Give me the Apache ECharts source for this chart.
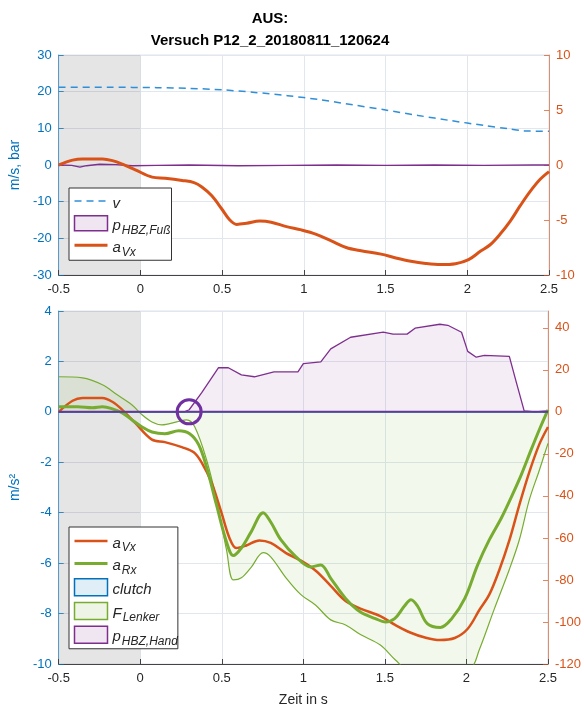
<!DOCTYPE html>
<html>
<head>
<meta charset="utf-8">
<script src="https://cdn.jsdelivr.net/npm/echarts@6/dist/echarts.min.js"></script>
<style>
  html, body { margin: 0; padding: 0; background: #fff; }
  #chart { width: 584px; height: 711px; }
</style>
</head>
<body>
<div id="chart"></div>
<script>
// ---- data ---------------------------------------------------------------
const titleLines = ['AUS:', 'Versuch P12_2_20180811_120624'];

// shaded pre-trigger window [s]
const preWindow = [-0.5, 0];

// vehicle speed v [m/s] (top plot, left axis)
const speedV = [[-0.5,21.2],[-0.2,21.2],[0.1,21.1],[0.3,20.9],[0.5,20.5],[0.7,19.8],[0.9,18.9],
  [1.1,17.8],[1.3,16.4],[1.5,15.0],[1.7,13.5],[1.9,12.1],[2.1,10.8],[2.25,9.9],[2.35,9.3],[2.5,9.2]];

// brake pressure foot lever [bar] (top plot, left axis)
const pFuss = [[-0.5,0],[-0.42,-0.1],[-0.37,-0.6],[-0.33,-0.2],[-0.25,0.2],[-0.15,0.1],[-0.05,-0.2],
  [0.1,-0.1],[0.3,0],[0.6,-0.2],[0.9,-0.1],[1.2,0],[1.5,-0.1],[1.8,0],[2.1,-0.1],[2.4,0],[2.5,0]];

// vehicle longitudinal acceleration a_Vx [m/s²]
const aVx = [[-0.5,0],[-0.415,0.44],[-0.354,0.55],[-0.232,0.55],[-0.171,0.4],[-0.11,0.08],[-0.031,-0.44],
  [0.072,-1.1],[0.151,-1.2],[0.255,-1.4],[0.328,-1.6],[0.376,-2.0],[0.437,-2.8],[0.498,-4.0],[0.547,-5.0],
  [0.589,-5.4],[0.65,-5.3],[0.73,-5.1],[0.80,-5.2],[0.894,-5.6],[0.985,-5.9],[1.076,-6.3],[1.168,-6.9],
  [1.259,-7.5],[1.35,-7.8],[1.472,-8.1],[1.563,-8.45],[1.655,-8.75],[1.746,-8.95],[1.837,-9.05],
  [1.928,-8.97],[2.008,-8.6],[2.08,-7.85],[2.14,-7.25],[2.20,-6.3],[2.263,-5.1],[2.324,-3.7],
  [2.385,-2.4],[2.446,-1.3],[2.5,-0.6]];

// wheel longitudinal acceleration a_Rx [m/s²]
const aRx = [[-0.5,0.2],[-0.384,0.2],[-0.293,0.16],[-0.232,0.2],[-0.171,0.12],[-0.11,-0.04],[-0.05,-0.32],
  [0.011,-0.6],[0.072,-0.8],[0.151,-0.87],[0.236,-0.75],[0.303,-0.87],[0.358,-1.3],[0.407,-2.2],
  [0.468,-3.7],[0.529,-5.16],[0.571,-5.7],[0.62,-5.4],[0.68,-4.76],[0.754,-4.0],[0.80,-4.37],
  [0.863,-5.08],[0.955,-5.75],[1.046,-6.15],[1.107,-6.07],[1.168,-6.6],[1.259,-7.4],[1.35,-7.94],
  [1.442,-8.2],[1.502,-8.33],[1.56,-8.2],[1.62,-7.7],[1.66,-7.45],[1.70,-7.7],[1.76,-8.4],[1.84,-8.55],
  [1.91,-8.2],[1.99,-7.4],[2.069,-6.07],[2.14,-5.08],[2.215,-4.2],[2.276,-3.37],[2.336,-2.5],
  [2.397,-1.5],[2.452,-0.63],[2.5,0.08]];

// clutch signal
const clutch = [[-0.5,0],[2.5,0]];

// handlebar force F_Lenker [N] (bottom plot, right axis)
const fLenker = [[-0.5,16.7],[-0.354,16.2],[-0.232,12.9],[-0.141,8.1],[-0.05,3.3],[0.011,-1.4],
  [0.072,-4.8],[0.133,-6.2],[0.224,-4.8],[0.285,-3.8],[0.334,-7.1],[0.407,-22.9],[0.468,-41.9],
  [0.529,-65.7],[0.571,-80],[0.62,-79],[0.68,-74],[0.754,-67],[0.80,-69],[0.894,-79],
  [0.985,-87],[1.076,-92],[1.168,-99],[1.259,-101.4],[1.35,-106],[1.472,-111],[1.563,-118],
  [1.655,-124],[1.837,-128],[2.02,-123],[2.08,-113],[2.17,-94],[2.263,-75],[2.324,-61],
  [2.385,-42],[2.446,-28],[2.5,-15]];

// brake pressure hand lever [bar] (bottom plot, right axis)
const pHand = [[-0.5,0],[0.27,0],[0.30,1],[0.376,9],[0.48,21],[0.54,21],[0.62,17.6],[0.70,16.7],
  [0.82,19],[0.967,19],[1.0,23],[1.107,23.8],[1.168,30],[1.29,35.5],[1.49,37.9],[1.55,37],
  [1.636,37],[1.685,39.8],[1.837,41.7],[1.886,41.2],[1.97,37.9],[2.008,28.8],[2.06,26],
  [2.11,26.9],[2.263,26.4],[2.306,14],[2.354,0.5],[2.42,0],[2.5,0.5]];

// onset of hand brake pressure
const onsetMark = [[0.3, 0]];

// ---- styling ------------------------------------------------------------
const FONT = '"Liberation Sans", Arial, Helvetica, sans-serif';
const BLUE = '#0072BD', ORANGE = '#D95319', GREEN = '#77AC30', PURPLE = '#7E2F8E';
const GRID_LINE = '#e2e7ee';
const TXT = '#262626';

const legendText = {
  'v': '{m|v}{s| }',
  'p_HBZ,Fuß': '{m|p}{s|HBZ,Fuß}',
  'a_Vx': '{m|a}{s|Vx}',
  'a_Rx': '{m|a}{s|Rx}',
  'clutch': '{m|clutch}{s| }',
  'F_Lenker': '{m|F}{s|Lenker}',
  'p_HBZ,Hand': '{m|p}{s|HBZ,Hand}'
};
const rich = {
  m: { fontFamily: FONT, fontSize: 15, fontStyle: 'italic', color: TXT, verticalAlign: 'top', lineHeight: 16, padding: [3, 0, 0, 0] },
  s: { fontFamily: FONT, fontSize: 12, fontStyle: 'italic', color: TXT, verticalAlign: 'top', lineHeight: 13, padding: [9, 0, 0, 1] }
};

function xAxisOf(grid, withName) {
  return {
    type: 'value', gridIndex: grid, min: -0.5, max: 2.5, interval: 0.5,
    axisLine: { show: true, onZero: false, lineStyle: { color: '#444', width: 1 } },
    axisTick: { show: true, inside: true, length: 5, lineStyle: { color: '#444' } },
    axisLabel: { color: TXT, fontFamily: FONT, fontSize: 13, margin: 8 },
    splitLine: { show: true, lineStyle: { color: GRID_LINE, width: 1 } },
    name: withName ? 'Zeit in s' : '', nameLocation: 'middle', nameGap: 29,
    nameTextStyle: { color: TXT, fontFamily: FONT, fontSize: 14 }
  };
}
function yAxisOf(grid, side, min, max, interval, color, name, split) {
  return {
    type: 'value', gridIndex: grid, position: side, min, max, interval,
    axisLine: { show: true, onZero: false, lineStyle: { color, width: 1, opacity: 0.6 } },
    axisTick: { show: true, inside: true, length: 5, lineStyle: { color, opacity: 0.7 } },
    axisLabel: { color, fontFamily: FONT, fontSize: 13, margin: 7, showMaxLabel: interval * Math.round(max / interval) === max },
    splitLine: { show: split, lineStyle: { color: GRID_LINE, width: 1 } },
    name, nameLocation: 'middle', nameGap: 26,
    nameTextStyle: { color, fontFamily: FONT, fontSize: 14 }
  };
}

const legendBase = {
  orient: 'vertical', selectedMode: false, itemWidth: 33, itemHeight: 15, itemGap: 1,
  backgroundColor: '#fff', borderColor: '#333', borderWidth: 1, borderRadius: 0,
  padding: [5, 1, 2, 4],
  formatter: n => legendText[n],
  textStyle: { rich }
};
const lineEntry = (name, color, width, type) => ({ name, itemStyle: { opacity: 0 }, lineStyle: { color, width, type: type || 'solid' } });
const boxEntry = (name, fill, border) => ({ name, icon: 'rect', itemStyle: { color: fill, borderColor: border, borderWidth: 1.5 } });

const option = {
  animation: false,
  backgroundColor: '#fff',
  graphic: [{
    type: 'text', x: 270, y: 8,
    style: { text: titleLines.join('\n'), fill: '#000', font: 'bold 15px ' + FONT, textAlign: 'center', lineHeight: 22 }
  }],
  grid: [
    { left: 56, right: 35, top: 55, height: 220, show: true, borderColor: '#dde3ea', borderWidth: 1, backgroundColor: 'transparent' },
    { left: 56, right: 35, top: 311, height: 353, show: true, borderColor: '#dde3ea', borderWidth: 1, backgroundColor: 'transparent' }
  ],
  xAxis: [xAxisOf(0, false), xAxisOf(1, true)],
  yAxis: [
    yAxisOf(0, 'left', -30, 30, 10, BLUE, 'm/s, bar', true),
    yAxisOf(0, 'right', -10, 10, 5, ORANGE, '', false),
    yAxisOf(1, 'left', -10, 4, 2, BLUE, 'm/s²', true),
    yAxisOf(1, 'right', -120, 48, 20, ORANGE, '', false)
  ],
  legend: [
    Object.assign({}, legendBase, {
      left: 69, top: 188,
      data: [lineEntry('v', '#2f8fd8', 1.5, [7, 5]), boxEntry('p_HBZ,Fuß', 'rgba(126,47,142,0.12)', PURPLE), lineEntry('a_Vx', ORANGE, 3)]
    }),
    Object.assign({}, legendBase, {
      left: 69, top: 527, itemHeight: 17, itemGap: 1.5, padding: [6, 0, 1, 4],
      data: [lineEntry('a_Vx', ORANGE, 2.5), lineEntry('a_Rx', GREEN, 3),
        boxEntry('clutch', 'rgba(0,114,189,0.12)', BLUE), boxEntry('F_Lenker', 'rgba(119,172,48,0.12)', GREEN),
        boxEntry('p_HBZ,Hand', 'rgba(126,47,142,0.12)', PURPLE)]
    })
  ],
  series: [
    // top plot
    { name: 'p_HBZ,Fuß', type: 'line', xAxisIndex: 0, yAxisIndex: 0, data: pFuss, symbol: 'none', z: 1,
      lineStyle: { color: PURPLE, width: 1.3 }, areaStyle: { color: 'rgba(126,47,142,0.12)' },
      markArea: { silent: true, itemStyle: { color: 'rgba(0,0,0,0.1)' }, data: [[{ xAxis: preWindow[0] }, { xAxis: preWindow[1] }]] } },
    { name: 'v', type: 'line', xAxisIndex: 0, yAxisIndex: 0, data: speedV, symbol: 'none', smooth: 0.3, z: 3,
      lineStyle: { color: '#2f8fd8', width: 1.5, type: [7, 5] } },
    { name: 'a_Vx', type: 'line', xAxisIndex: 0, yAxisIndex: 1, data: aVx, symbol: 'none', smooth: 0.35, z: 4,
      lineStyle: { color: ORANGE, width: 3 } },
    // bottom plot
    { name: 'F_Lenker', type: 'line', xAxisIndex: 1, yAxisIndex: 3, data: fLenker, symbol: 'none', smooth: 0.35, z: 2,
      lineStyle: { color: GREEN, width: 1.2 }, areaStyle: { color: 'rgba(119,172,48,0.12)' },
      markArea: { silent: true, itemStyle: { color: 'rgba(0,0,0,0.1)' }, data: [[{ xAxis: preWindow[0] }, { xAxis: preWindow[1] }]] } },
    { name: 'p_HBZ,Hand', type: 'line', xAxisIndex: 1, yAxisIndex: 3, data: pHand, symbol: 'none', z: 3,
      lineStyle: { color: PURPLE, width: 1.3 }, areaStyle: { color: 'rgba(126,47,142,0.12)' } },
    { name: 'a_Vx', type: 'line', xAxisIndex: 1, yAxisIndex: 2, data: aVx, symbol: 'none', smooth: 0.35, z: 4,
      lineStyle: { color: ORANGE, width: 2.5 } },
    { name: 'a_Rx', type: 'line', xAxisIndex: 1, yAxisIndex: 2, data: aRx, symbol: 'none', smooth: 0.35, z: 5,
      lineStyle: { color: GREEN, width: 3 } },
    { name: 'clutch', type: 'line', xAxisIndex: 1, yAxisIndex: 2, data: clutch, symbol: 'none', z: 6,
      lineStyle: { color: BLUE, width: 2 }, areaStyle: { color: 'rgba(0,114,189,0.12)' } },
    { name: 'p_HBZ,Hand', type: 'line', xAxisIndex: 1, yAxisIndex: 3, data: pHand.map(p => [p[0], Math.min(p[1], 0)]), symbol: 'none', z: 7,
      lineStyle: { color: PURPLE, width: 1.5 }, silent: true },
    { name: 'onset', type: 'scatter', xAxisIndex: 1, yAxisIndex: 2, data: onsetMark, symbol: 'circle', symbolSize: 24, z: 10,
      itemStyle: { color: 'rgba(0,0,0,0)', borderColor: '#7030A0', borderWidth: 3, opacity: 1 }, silent: true }
  ]
};

const chart = echarts.init(document.getElementById('chart'), null, { renderer: 'canvas' });
chart.setOption(option);
</script>
</body>
</html>
